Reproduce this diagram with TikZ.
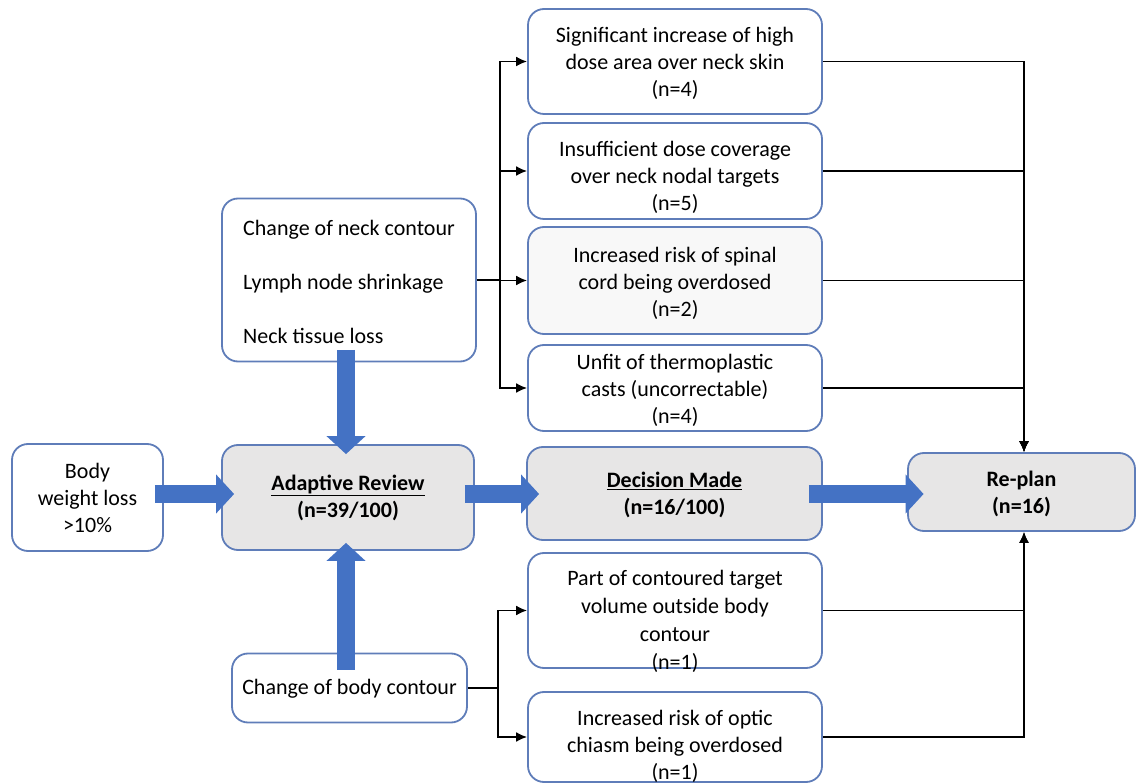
\documentclass[tikz,border=0pt]{standalone}
\usepackage{fontspec}
\setmainfont{Carlito}
\usetikzlibrary{arrows.meta,calc}
\definecolor{edgeblue}{RGB}{95,125,185}
\definecolor{panelgrey}{RGB}{231,230,230}
\definecolor{softgrey}{RGB}{248,248,248}
\definecolor{flowblue}{RGB}{68,114,196}
\begin{document}
\begin{tikzpicture}[x=1pt,y=-1pt,
  box/.style={draw=edgeblue, line width=1.8pt, rounded corners=16pt, fill=white, inner sep=0pt},
  keybox/.style={box, fill=panelgrey},
  txt/.style={font=\fontsize{22}{27}\selectfont, align=center, inner sep=0pt},
  plain/.style={draw=black, line width=1.9pt},
  link/.style={plain, -{Latex[length=11pt,width=10pt]}},
  bigarrow/.style={draw=flowblue, line width=18pt, -{Triangle[length=18pt,width=38pt]}}]
\useasboundingbox (0,0) rectangle (1136,783);

% main chain
\node[box, minimum width=151pt, minimum height=107pt] (bw) at (87.5,497.5) {};
\node[keybox, minimum width=252pt, minimum height=105pt] (ar) at (348,497.5) {};
\node[keybox, minimum width=295pt, minimum height=93pt] (dm) at (674.5,493.5) {};
\node[keybox, minimum width=227pt, minimum height=78pt] (rp) at (1021.5,492) {};

% causes
\node[box, minimum width=254pt, minimum height=163pt] (neck) at (349,280) {};
\node[box, minimum width=235pt, minimum height=69pt] (bc) at (349.5,688) {};

% findings
\node[box, minimum width=294pt, minimum height=105pt] (t1) at (675,61.5) {};
\node[box, minimum width=294pt, minimum height=96pt] (t2) at (675,171) {};
\node[box, fill=softgrey, minimum width=294pt, minimum height=107pt] (t3) at (675,280.5) {};
\node[box, minimum width=294pt, minimum height=86pt] (t4) at (675,388) {};
\node[box, minimum width=294pt, minimum height=115pt] (b5) at (675,610.5) {};
\node[box, minimum width=294pt, minimum height=90pt] (b6) at (675,737) {};

% thin connectors
\coordinate (jn) at (500,280);
\coordinate (jb) at (498,688);
\draw[plain] (neck.east) -- (jn);
\foreach \t in {t1,t2,t3,t4} \draw[link] (jn) |- (\t.west);
\draw[plain] (bc.east) -- (jb);
\foreach \t in {b5,b6} \draw[link] (jb) |- (\t.west);
\foreach \t in {t1,t2,t3,t4} \draw[link] (\t.east) -| ([xshift=2.5pt]rp.north);
\foreach \t in {b5,b6} \draw[link] (\t.east) -| ([xshift=2.5pt]rp.south);

% block arrows
\coordinate (lane) at (0,494);
\draw[bigarrow] ($(bw.east |- lane)+(-9,0)$) -- ($(ar.west |- lane)+(13,0)$);
\draw[bigarrow] ($(ar.east |- lane)+(-10,0)$) -- ($(dm.west |- lane)+(13,0)$);
\draw[bigarrow] ($(dm.east |- lane)+(-14,0)$) -- ($(rp.west |- lane)+(16.5,0)$);
\draw[bigarrow] ($(neck.south)+(-3,-12.5)$) -- ($(ar.north)+(-2,10)$);
\draw[bigarrow] ($(bc.north)+(-3.5,17)$) -- ($(ar.south)+(-2,-8)$);

% texts
\node[txt] (bwt) at (87.5,498) {Body\\weight loss\\>10\%};
\node[txt] (art) at (348,498) {\bfseries\underline{Adaptive Review}\\\bfseries(n=39/100)};
\node[txt] (dmt) at (674.5,495) {\bfseries\underline{Decision Made}\\\bfseries(n=16/100)};
\node[txt] (rpt) at (1021.5,494) {\bfseries Re-plan\\\bfseries(n=16)};
\node[txt, align=left, anchor=west] (neckt) at (243,282) {Change of neck contour\\[27pt]Lymph node shrinkage\\[27pt]Neck tissue loss};
\node[txt] (bct) at (349.5,689) {Change of body contour};
\node[txt] (t1t) at (675,63.5) {Significant increase of high\\dose area over neck skin\\(n=4)};
\node[txt] (t2t) at (675,177) {Insufficient dose coverage\\over neck nodal targets\\(n=5)};
\node[txt] (t3t) at (675,283.5) {Increased risk of spinal\\cord being overdosed\\(n=2)};
\node[txt] (t4t) at (675,390) {Unfit of thermoplastic\\casts (uncorrectable)\\(n=4)};
\node[txt, font=\fontsize{22}{28}\selectfont] (b5t) at (675,621) {Part of contoured target\\volume outside body\\contour\\(n=1)};
\node[txt] (b6t) at (675,746) {Increased risk of optic\\chiasm being overdosed\\(n=1)};
\end{tikzpicture}
\end{document}
